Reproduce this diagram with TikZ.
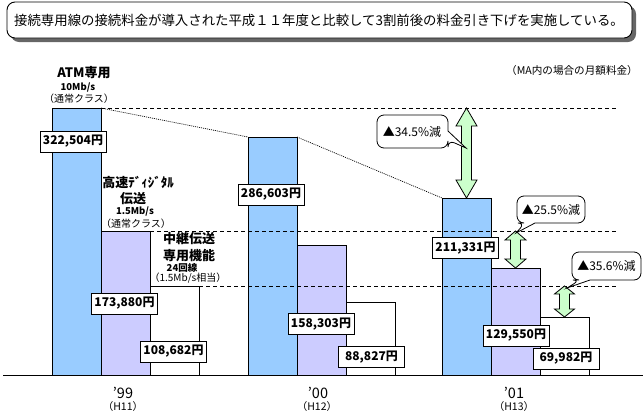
\documentclass[tikz,border=0pt]{standalone}
\usepackage{fontspec}
\setmainfont{Noto Sans CJK JP}
\usetikzlibrary{calc}
\definecolor{atm}{HTML}{99CCFF}
\definecolor{hsd}{HTML}{CCCCFF}
\definecolor{grn}{HTML}{CCFFCC}
\newcommand\fsz[1]{\fontsize{#1}{#1}\selectfont}
\newcommand\greenarrow[4]{%
  \path[garrow] let \p1=(#1), \p2=(#2) in
   (\x2,\y1) -- (\x2+#4,\y1-#3) -- (\x2+5pt,\y1-#3) -- (\x2+5pt,\y2+#3) -- (\x2+#4,\y2+#3)
   -- (\x2,\y2) -- (\x2-#4,\y2+#3) -- (\x2-5pt,\y2+#3) -- (\x2-5pt,\y1-#3) -- (\x2-#4,\y1-#3) -- cycle;}
\begin{document}
\begin{tikzpicture}[x=1pt,y=-1pt,
 bar/.style={draw=black, line width=0.9pt, inner sep=0pt, outer sep=0pt, minimum width=49pt, anchor=south west},
 val/.style={draw=black, fill=white, line width=0.9pt, inner sep=0pt, minimum width=66pt, minimum height=21pt, font=\fsz{12}\bfseries},
 guide/.style={line width=0.8pt, dash pattern=on 4pt off 3pt},
 trend/.style={line width=0.7pt, dash pattern=on 1pt off 1pt},
 hd/.style={font=\fsz{13}\bfseries, inner sep=0pt},
 sp/.style={font=\fsz{9.5}\bfseries, inner sep=0pt},
 cls/.style={font=\fsz{10}, inner sep=0pt},
 yr/.style={font=\fsz{14.5}, inner sep=0pt},
 era/.style={font=\fsz{10.5}, inner sep=0pt},
 cotext/.style={font=\fsz{12}, inner sep=0pt},
 coline/.style={draw=black, fill=white, line width=0.8pt},
 garrow/.style={draw=black, fill=grn, line width=0.8pt, line join=miter}
]
\useasboundingbox (0,0) rectangle (643,413);

% title
\fill[black!60, rounded corners=8pt] (11,6) rectangle (636,42);
\node[draw=black, fill=white, line width=0.9pt, rounded corners=8pt, minimum width=625pt, minimum height=36pt, inner sep=0pt] (tbox) at (319.5,20) {};
\node[anchor=west, font=\fsz{13.4}, inner sep=0pt] (title) at (14,20.5) {接続専用線の接続料金が導入された平成１１年度と比較して3割前後の料金引き下げを実施している。};
\node[anchor=east, font=\fsz{10.6}, inner sep=0pt] (note) at (638,70) {（MA内の場合の月額料金）};

% bars
\coordinate (b99) at (52,375);
\node[bar, fill=atm, minimum height=267pt] (a99) at (b99) {};
\node[bar, fill=hsd, minimum height=144pt] (p99) at (a99.south east) {};
\node[bar, fill=white, minimum height=89pt] (w99) at (p99.south east) {};
\coordinate (b00) at (248,375);
\node[bar, fill=atm, minimum height=238pt] (a00) at (b00) {};
\node[bar, fill=hsd, minimum height=130pt] (p00) at (a00.south east) {};
\node[bar, fill=white, minimum height=73pt] (w00) at (p00.south east) {};
\coordinate (b01) at (442,375);
\node[bar, fill=atm, minimum height=177pt] (a01) at (b01) {};
\node[bar, fill=hsd, minimum height=107pt] (p01) at (a01.south east) {};
\node[bar, fill=white, minimum height=58pt] (w01) at (p01.south east) {};

% guides
\coordinate (gend) at (617,0);
\draw[guide] (a99.north east) -- (a99.north east -| gend);
\draw[guide] (p99.north east) -- (p99.north east -| gend);
\draw[guide] (w99.north east) -- (w99.north east -| gend);
\draw[trend] (a99.north east) -- (a00.north west);
\draw[trend] (a00.north east) -- (a01.north west);

% axis
\coordinate (ax0) at (3,375);
\coordinate (ax1) at (643,375);
\draw[line width=0.9pt] (ax0) -- (ax1);

% value labels
\node[val] (v1) at (73,141.5) {322,504円};
\node[val] (v2) at (124.5,303.5) {173,880円};
\node[val] (v3) at (173.5,351.5) {108,682円};
\node[val] (v4) at (271,194.5) {286,603円};
\node[val] (v5) at (321,324) {158,303円};
\node[val] (v6) at (371.5,357) {88,827円};
\node[val] (v7) at (465.5,248) {211,331円};
\node[val] (v8) at (516,335.5) {129,550円};
\node[val] (v9) at (566,358.5) {69,982円};

% headers
\node[hd] (h1) at (84,73) {ATM専用};
\node[sp] (h1s) at (78,88) {10Mb/s};
\node[cls] (h1c) at (79,99) {（通常クラス）};
\node[hd] (h2) at (138,183) {高速ﾃﾞｨｼﾞﾀﾙ};
\node[hd] (h2b) at (133,199) {伝送};
\node[sp] (h2s) at (135,212) {1.5Mb/s};
\node[cls] (h2c) at (136,223.5) {（通常クラス）};
\node[hd] (h3) at (189,239) {中継伝送};
\node[hd] (h3b) at (189,256) {専用機能};
\node[sp] (h3s) at (182,268) {24回線};
\node[cls] (h3c) at (188,278.5) {（1.5Mb/s相当）};

% arrows
\greenarrow{a99.north east -| a01.north}{a01.north}{18pt}{10.5pt}
\greenarrow{p99.north east -| p01.north}{p01.north}{9pt}{10.5pt}
\greenarrow{w99.north east -| w01.north}{w01.north}{8pt}{10pt}

% callouts
\coordinate (k1) at (466,148);
\coordinate (k2) at (516,233);
\coordinate (k3) at (567,288);
\draw[coline, rounded corners=7pt] (448,131) -- (448,115) -- (377,115) -- (377,148) -- (448,148) -- (448,140) [sharp corners] -- (k1) -- cycle;
\node[cotext] (c1) at (412,131.5) {▲34.5\%減};
\draw[coline, rounded corners=7pt] (535,223) -- (585,223) -- (585,196) -- (517,196) -- (517,223) -- (525,223) [sharp corners] -- (k2) -- cycle;
\node[cotext] (c2) at (551,209.5) {▲25.5\%減};
\draw[coline, rounded corners=7pt] (590,280) -- (641,280) -- (641,252) -- (572,252) -- (572,280) -- (580,280) [sharp corners] -- (k3) -- cycle;
\node[cotext] (c3) at (606.5,266) {▲35.6\%減};

% years
\node[yr] (y99) at (123,393) {’99};
\node[era] (e99) at (123,407) {（H11）};
\node[yr] (y00) at (318,393) {’00};
\node[era] (e00) at (317,407) {（H12）};
\node[yr] (y01) at (514,393) {’01};
\node[era] (e01) at (514,407) {（H13）};
\end{tikzpicture}
\end{document}
